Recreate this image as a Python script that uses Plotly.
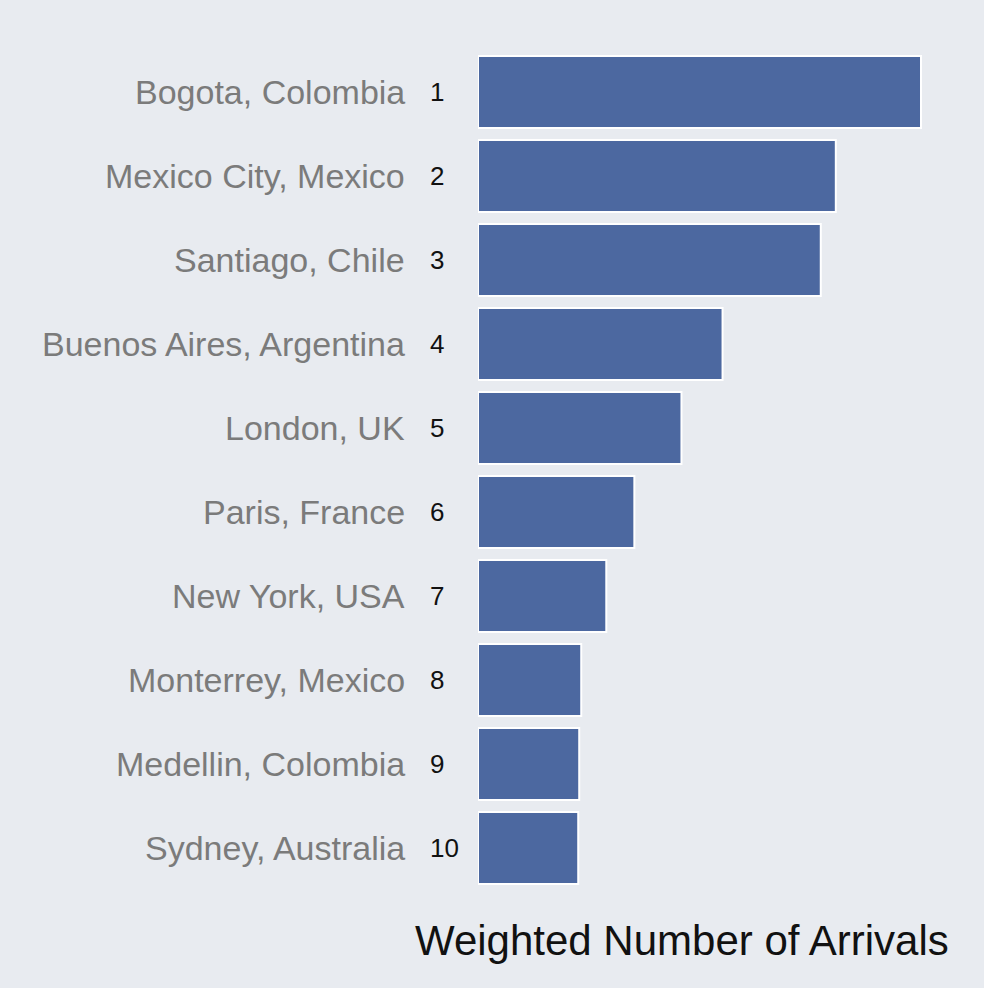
import plotly.graph_objects as go

cities = [
    "Bogota, Colombia", "Mexico City, Mexico", "Santiago, Chile",
    "Buenos Aires, Argentina", "London, UK", "Paris, France",
    "New York, USA", "Monterrey, Mexico", "Medellin, Colombia",
    "Sydney, Australia",
]
ranks = ["1", "2", "3", "4", "5", "6", "7", "8", "9", "10"]
arrivals = [4.42, 3.57, 3.42, 2.44, 2.03, 1.56, 1.28, 1.03, 1.01, 1.00]

bg = "#e8ebf0"
bar_blue = "#4c68a0"
label_gray = "#7b7b7b"
font_main = "Liberation Sans, Arial, sans-serif"

fig = go.Figure()

fig.add_trace(go.Bar(
    x=arrivals, y=ranks, orientation="h",
    marker=dict(color=bar_blue, line=dict(color="white", width=2)),
    hoverinfo="x", showlegend=False,
))

# city name + rank number to the left of each bar (y given as category index)
for i, (city, rk) in enumerate(zip(cities, ranks)):
    fig.add_annotation(
        x=0, y=i, xref="paper", yref="y", text=city,
        xanchor="right", yanchor="middle", xshift=-71, showarrow=False,
        font=dict(size=34, color=label_gray, family=font_main),
    )
    fig.add_annotation(
        x=0, y=i, xref="paper", yref="y", text=rk,
        xanchor="left", yanchor="middle", xshift=-50, showarrow=False,
        font=dict(size=26, color="#111111", family=font_main),
    )

fig.add_annotation(
    x=0.459, y=-0.06, xref="paper", yref="paper",
    text="Weighted Number of Arrivals",
    xanchor="center", yanchor="middle", showarrow=False,
    font=dict(size=42, color="#111111", family=font_main),
)

fig.update_xaxes(visible=False, range=[0, 4.43], fixedrange=True)
fig.update_yaxes(visible=False, type="category", range=[len(ranks) - 0.5, -0.5],
                 fixedrange=True)

fig.update_layout(
    width=984, height=988,
    paper_bgcolor=bg, plot_bgcolor=bg,
    bargap=0.14,
    margin=dict(l=478, r=62, t=50, b=98),
    font=dict(family=font_main),
)

fig.write_html("out.html", config={"displayModeBar": False},
               post_script="document.body.style.margin='0';")
